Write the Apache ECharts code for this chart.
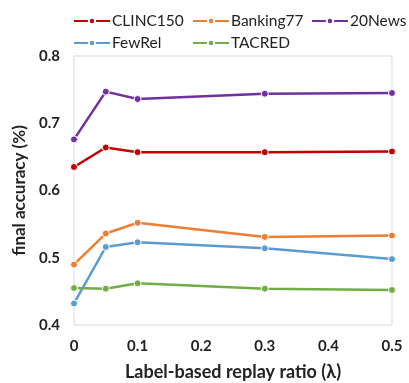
<!DOCTYPE html>
<html>
<head>
<meta charset="utf-8">
<script src="https://cdn.jsdelivr.net/npm/echarts@6/dist/echarts.min.js"></script>
<style>
  html, body { margin: 0; padding: 0; background: #fff; }
  #chart-panel { width: 409px; height: 383px; }
</style>
</head>
<body>
<div id="chart-panel"></div>
<script>
// replay ratio values (x)
var ratios = [0, 0.05, 0.1, 0.3, 0.5];
var xTicks = ['0', '0.1', '0.2', '0.3', '0.4', '0.5'];

// final accuracy for each dataset
var clinc150  = [0.635, 0.664, 0.657, 0.657, 0.658];
var banking77 = [0.490, 0.536, 0.552, 0.531, 0.533];
var news20    = [0.676, 0.747, 0.736, 0.744, 0.745];
var fewrel    = [0.432, 0.516, 0.523, 0.514, 0.498];
var tacred    = [0.455, 0.454, 0.462, 0.454, 0.452];

var names  = ['CLINC150', 'Banking77', '20News', 'FewRel', 'TACRED'];
var values = [clinc150, banking77, news20, fewrel, tacred];
var colors = ['#C00000', '#ED7D31', '#7030A0', '#5B9BD5', '#70AD47'];

var chart = echarts.init(document.getElementById('chart-panel'));
var font = 'Lato, "Open Sans", sans-serif';

// legend laid out like the original: 3 on top row, 2 below
var legendPos = [[73, 13], [192, 13], [311, 13], [73, 35], [192, 35]];
var legends = names.map(function(n, i) {
    return {
        data: [n],
        left: legendPos[i][0],
        top: legendPos[i][1],
        padding: 0,
        itemWidth: 36,
        itemHeight: 8,
        textStyle: { fontFamily: font, fontSize: 15.5, color: '#222', padding: [0, 0, 0, -3] }
    };
});

var series = names.map(function(n, i) {
    return {
        name: n,
        type: 'line',
        data: ratios.map(function(r, j) { return [r, values[i][j]]; }),
        symbol: 'circle',
        symbolSize: 7,
        lineStyle: { width: 2.5, color: colors[i] },
        itemStyle: { color: colors[i], borderColor: '#fff', borderWidth: 1 },
        animation: false
    };
});

var option = {
    backgroundColor: '#fff',
    color: colors,
    legend: legends,
    grid: {
        left: 74, right: 17, top: 56, bottom: 58,
        outerBoundsMode: 'none',
        containLabel: false,
        show: true, borderColor: '#d9d9d9', borderWidth: 1
    },
    xAxis: {
        type: 'value',
        min: 0, max: 0.5, interval: 0.1,
        name: 'Label-based replay ratio (λ)',
        nameLocation: 'middle',
        nameGap: 38,
        nameTextStyle: { fontFamily: font, fontSize: 18, fontWeight: 'bold', color: '#222' },
        axisLine: { show: false },
        axisTick: { show: false },
        splitLine: { show: false },
        axisLabel: {
            fontFamily: font, fontSize: 15, fontWeight: 'bold', color: '#222', margin: 14,
            formatter: function(v) { return xTicks[Math.round(v * 10)]; }
        }
    },
    yAxis: {
        type: 'value',
        min: 0.4, max: 0.8, interval: 0.1,
        name: 'final accuracy (%)',
        nameLocation: 'middle',
        nameGap: 43,
        nameTextStyle: { fontFamily: font, fontSize: 17, fontWeight: 'bold', color: '#222' },
        axisLine: { show: false },
        axisTick: { show: false },
        splitLine: { show: false },
        axisLabel: {
            fontFamily: font, fontSize: 15, fontWeight: 'bold', color: '#222', margin: 14,
            formatter: function(v) { return v.toFixed(1); }
        }
    },
    series: series
};
chart.setOption(option);
</script>
</body>
</html>
